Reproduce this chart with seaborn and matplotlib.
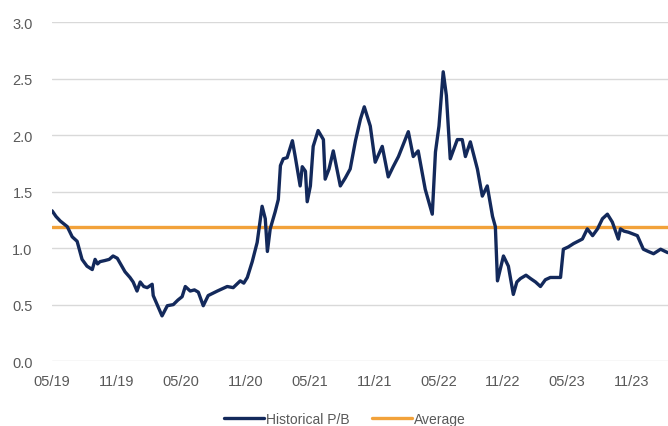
import matplotlib
matplotlib.use("Agg")
import matplotlib.pyplot as plt
import matplotlib.dates as mdates
import seaborn as sns
import pandas as pd

# Historical price-to-book series (approximate trading-date samples)
dates = [
    "2019-05-01", "2019-05-12", "2019-05-24", "2019-06-13", "2019-06-27", "2019-07-11",
    "2019-07-25", "2019-08-08", "2019-08-23", "2019-08-31", "2019-09-07", "2019-09-14",
    "2019-09-28", "2019-10-10", "2019-10-21", "2019-11-02", "2019-11-24", "2019-12-08",
    "2019-12-17", "2019-12-28", "2020-01-06", "2020-01-16", "2020-01-26", "2020-02-09",
    "2020-02-12", "2020-02-26", "2020-03-08", "2020-03-23", "2020-04-09", "2020-04-22",
    "2020-05-04", "2020-05-13", "2020-05-27", "2020-06-08", "2020-06-19", "2020-07-03",
    "2020-07-17", "2020-07-30", "2020-08-12", "2020-08-26", "2020-09-09", "2020-09-26",
    "2020-10-16", "2020-10-26", "2020-11-05", "2020-11-19", "2020-12-03", "2020-12-17",
    "2020-12-26", "2021-01-01", "2021-01-09", "2021-01-23", "2021-02-01", "2021-02-07",
    "2021-02-15", "2021-02-26", "2021-03-13", "2021-03-21", "2021-04-04", "2021-04-10",
    "2021-04-19", "2021-04-24", "2021-05-03", "2021-05-11", "2021-05-25", "2021-06-09",
    "2021-06-14", "2021-06-25", "2021-07-07", "2021-07-27", "2021-08-10", "2021-08-24",
    "2021-09-08", "2021-09-22", "2021-10-03", "2021-10-20", "2021-11-03", "2021-11-23",
    "2021-12-10", "2021-12-24", "2022-01-08", "2022-02-05", "2022-02-19", "2022-03-05",
    "2022-03-25", "2022-04-14", "2022-04-23", "2022-05-03", "2022-05-15", "2022-05-24",
    "2022-06-04", "2022-06-24", "2022-07-08", "2022-07-17", "2022-07-31", "2022-08-20",
    "2022-09-03", "2022-09-17", "2022-10-02", "2022-10-10", "2022-10-16", "2022-11-02",
    "2022-11-16", "2022-11-30", "2022-12-10", "2022-12-20", "2023-01-05", "2023-01-18",
    "2023-02-01", "2023-02-15", "2023-03-01", "2023-03-15", "2023-04-13", "2023-04-21",
    "2023-05-05", "2023-05-20", "2023-06-14", "2023-06-28", "2023-07-13", "2023-07-27",
    "2023-08-10", "2023-08-24", "2023-09-07", "2023-09-24", "2023-09-30", "2023-10-10",
    "2023-10-23", "2023-11-17", "2023-12-04", "2023-12-18", "2024-01-02", "2024-01-22",
    "2024-02-11",
]
pb_values = [
    1.33, 1.28, 1.24, 1.19, 1.10, 1.06,
    0.90, 0.84, 0.81, 0.90, 0.86, 0.88,
    0.89, 0.90, 0.93, 0.91, 0.79, 0.74,
    0.70, 0.62, 0.70, 0.66, 0.65, 0.68,
    0.58, 0.48, 0.40, 0.49, 0.50, 0.54,
    0.57, 0.66, 0.62, 0.63, 0.61, 0.49,
    0.58, 0.60, 0.62, 0.64, 0.66, 0.65,
    0.71, 0.69, 0.74, 0.88, 1.05, 1.37,
    1.26, 0.97, 1.17, 1.32, 1.43, 1.73,
    1.79, 1.80, 1.95, 1.81, 1.55, 1.72,
    1.68, 1.41, 1.55, 1.90, 2.04, 1.96,
    1.61, 1.70, 1.86, 1.55, 1.62, 1.70,
    1.95, 2.14, 2.25, 2.08, 1.76, 1.90,
    1.63, 1.72, 1.81, 2.03, 1.81, 1.86,
    1.52, 1.30, 1.85, 2.08, 2.56, 2.35,
    1.79, 1.96, 1.96, 1.81, 1.94, 1.70,
    1.46, 1.55, 1.28, 1.19, 0.71, 0.93,
    0.84, 0.59, 0.70, 0.73, 0.76, 0.73,
    0.70, 0.66, 0.72, 0.74, 0.74, 0.99,
    1.01, 1.04, 1.08, 1.17, 1.11, 1.17,
    1.26, 1.30, 1.23, 1.08, 1.17, 1.15,
    1.14, 1.11, 0.99, 0.97, 0.95, 0.99,
    0.96,
]
average_pb = 1.19

tick_dates = ["2019-05-01", "2019-11-01", "2020-05-01", "2020-11-01", "2021-05-01",
              "2021-11-01", "2022-05-01", "2022-11-01", "2023-05-01", "2023-11-01"]
y_ticks = [0.0, 0.5, 1.0, 1.5, 2.0, 2.5, 3.0]

NAVY = "#13295b"
ORANGE = "#f2a23a"
GRID = "#d9d9d9"
TEXT = "#595959"

sns.set_style("white")
plt.rcParams["font.family"] = ["Liberation Sans", "DejaVu Sans"]

df = pd.DataFrame({"date": pd.to_datetime(dates), "pb": pb_values})

fig = plt.figure(figsize=(6.68, 4.27), dpi=100)
ax = fig.add_axes([0.078, 0.152, 0.922, 0.794])

ax.axhline(average_pb, color=ORANGE, lw=2.4, label="Average", zorder=2)
sns.lineplot(data=df, x="date", y="pb", ax=ax, color=NAVY, lw=2.4,
             label="Historical P/B", zorder=3)

ax.set_ylim(0, 3.0)
ax.set_xlim(pd.Timestamp("2019-05-01"), pd.Timestamp("2024-02-12"))
ax.set_yticks(y_ticks)
ax.set_yticklabels([f"{v:.1f}" for v in y_ticks])
ax.set_xticks(pd.to_datetime(tick_dates))
ax.xaxis.set_major_formatter(mdates.DateFormatter("%m/%y"))

ax.yaxis.grid(True, color=GRID, lw=1.0, zorder=0)
ax.xaxis.grid(False)
for s in ax.spines.values():
    s.set_visible(False)
ax.tick_params(axis="both", length=0, labelsize=10.5, labelcolor=TEXT)
ax.tick_params(axis="y", pad=14)
ax.tick_params(axis="x", pad=9)
ax.set_xlabel("")
ax.set_ylabel("")

handles, labels = ax.get_legend_handles_labels()
order = [labels.index("Historical P/B"), labels.index("Average")]
ax.get_legend().remove()
fig.legend([handles[i] for i in order], [labels[i] for i in order],
           loc="center", bbox_to_anchor=(0.516, 0.017), ncol=2, frameon=False,
           fontsize=10, labelcolor=TEXT, handlelength=2.9, handletextpad=0.15,
           columnspacing=1.6)

fig.savefig("out.png", dpi=100)
